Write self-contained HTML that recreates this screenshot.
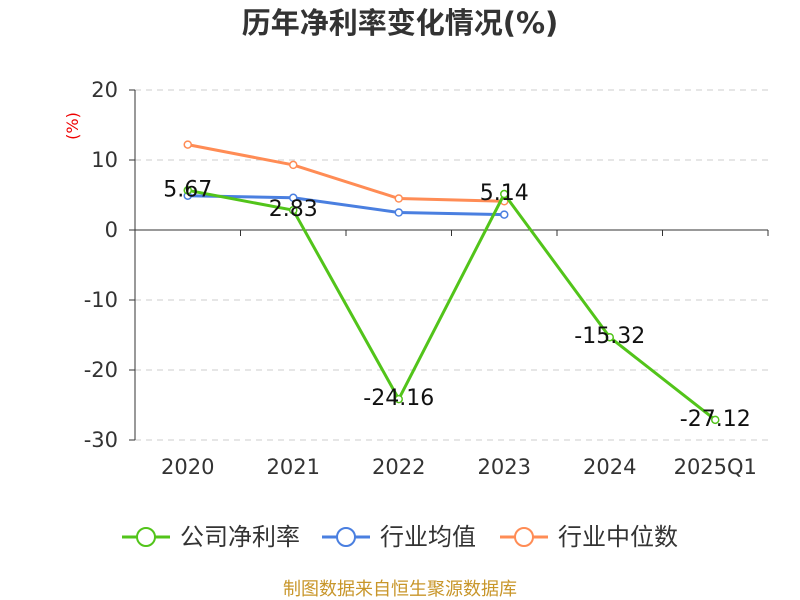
<!DOCTYPE html>
<html><head><meta charset="utf-8"><style>
body{margin:0;background:#fff;}
svg{display:block;font-family:"DejaVu Sans","Noto Sans CJK SC",sans-serif;}
</style></head><body>
<svg id="c" width="800" height="600">
<text x="400" y="33" text-anchor="middle" font-size="29" font-weight="bold" fill="#333">历年净利率变化情况(%)</text>
<text x="78" y="126" text-anchor="middle" font-size="16" fill="#e00" transform="rotate(-90 78 126)">(%)</text>
<g id="grid"></g><g id="series"></g>
<g>
<g><line x1="122" y1="537" x2="170" y2="537" stroke="#52c41a" stroke-width="3"/><circle cx="146" cy="537" r="9" fill="#fff" stroke="#52c41a" stroke-width="2"/><text x="180" y="545" font-size="24" fill="#333">公司净利率</text></g>
<g><line x1="322" y1="537" x2="370" y2="537" stroke="#4a7fe0" stroke-width="3"/><circle cx="346" cy="537" r="9" fill="#fff" stroke="#4a7fe0" stroke-width="2"/><text x="380" y="545" font-size="24" fill="#333">行业均值</text></g>
<g><line x1="500" y1="537" x2="548" y2="537" stroke="#ff8c55" stroke-width="3"/><circle cx="524" cy="537" r="9" fill="#fff" stroke="#ff8c55" stroke-width="2"/><text x="558" y="545" font-size="24" fill="#333">行业中位数</text></g>
</g>
<text x="400" y="595" text-anchor="middle" font-size="18" fill="#c8962a">制图数据来自恒生聚源数据库</text>
</svg>
<script>
const categories=["2020","2021","2022","2023","2024","2025Q1"];
const company=[5.67,2.83,-24.16,5.14,-15.32,-27.12];
const industryAvg=[4.9,4.6,2.5,2.2,null,null];
const industryMedian=[12.2,9.3,4.5,4.1,null,null];
const yTicks=[20,10,0,-10,-20,-30];
const NS="http://www.w3.org/2000/svg";
const x0=135,x1=768,bw=(x1-x0)/categories.length;
const X=i=>x0+bw*(i+0.5);
const Y=v=>230-v*7;
function mk(t,a,p){const e=document.createElementNS(NS,t);for(const k in a)e.setAttribute(k,a[k]);p.appendChild(e);return e;}
const g=document.getElementById('grid'),s=document.getElementById('series');
yTicks.forEach(v=>{
 if(v!==0){const l=mk('line',{x1:x0,x2:x1,y1:Y(v),y2:Y(v),stroke:'#ccc','stroke-dasharray':'6,5'},g);
 
 }
 const t=mk('text',{x:118,y:Y(v)+7,'text-anchor':'end','font-size':21,fill:'#333'},g);t.textContent=v;
 
 
 mk('line',{x1:x0-6,x2:x0,y1:Y(v),y2:Y(v),stroke:'#333'},g);
});
const ya=mk('line',{x1:x0,x2:x0,y1:Y(20),y2:Y(-30),stroke:'#333'},g);


const xa=mk('line',{x1:x0,x2:x1,y1:Y(0),y2:Y(0),stroke:'#333'},g);


for(let i=0;i<=categories.length;i++)mk('line',{x1:x0+bw*i,x2:x0+bw*i,y1:Y(0),y2:Y(0)+6,stroke:'#333'},g);
categories.forEach((c,i)=>{const t=mk('text',{x:X(i),y:474,'text-anchor':'middle','font-size':21,fill:'#333'},g);t.textContent=c;
 
 });
function series(d,col,name,labels){
 const pts=d.map((v,i)=>v==null?null:[X(i),Y(v)]).filter(p=>p);
 const pl=mk('polyline',{points:pts.map(p=>p.join(',')).join(' '),fill:'none',stroke:col,'stroke-width':3},s);
 
 
 d.forEach((v,i)=>{if(v==null)return;
  const c=mk('circle',{cx:X(i),cy:Y(v),r:3.5,fill:'#fff',stroke:col,'stroke-width':1.5},s);
  
  
  if(labels){const t=mk('text',{x:X(i),y:Y(v)+6,'text-anchor':'middle','font-size':22,fill:'#111'},s);
   t.textContent=v.toFixed(2);
   
   }
 });
}
series(industryMedian,'#ff8c55','industry-median',false);
series(industryAvg,'#4a7fe0','industry-avg',false);
series(company,'#52c41a','company',true);
</script>
</body></html>
